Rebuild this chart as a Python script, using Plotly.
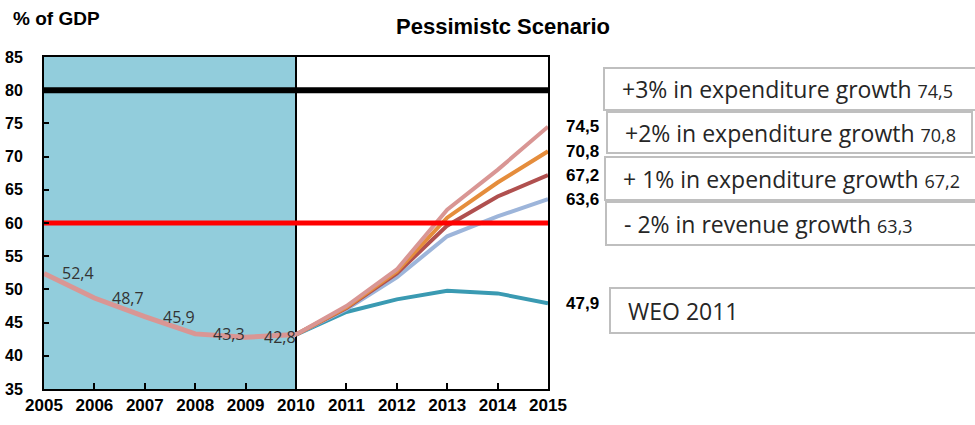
import plotly.graph_objects as go

years = [2005, 2006, 2007, 2008, 2009, 2010, 2011, 2012, 2013, 2014, 2015]
hist_years = [2005, 2006, 2007, 2008, 2009, 2010]
history = [52.4, 48.7, 45.9, 43.3, 42.8, 43.2]
hist_labels = ["52,4", "48,7", "45,9", "43,3", "42,8"]

scen_years = [2010, 2011, 2012, 2013, 2014, 2015]
exp3 = [43.2, 47.5, 53.0, 62.0, 68.0, 74.5]
exp2 = [43.2, 47.3, 52.7, 60.8, 66.1, 70.8]
exp1 = [43.2, 47.2, 52.4, 59.6, 64.0, 67.2]
rev2 = [43.2, 47.0, 51.8, 58.0, 61.0, 63.6]
weo = [43.2, 46.6, 48.5, 49.8, 49.4, 47.9]

end_labels = ["74,5", "70,8", "67,2", "63,6", "47,9"]
box_texts = ["+3% in expenditure growth", "+2% in expenditure growth",
             "+ 1% in expenditure growth", "- 2% in revenue growth", "WEO 2011"]
box_values = ["74,5", "70,8", "67,2", "63,3", ""]

limit_high = 80
limit_low = 60

W, H = 975, 425
PL, PR, PT, PB = 44, 548, 57, 389          # plot area in window pixels
L, T = PL, PT
R, B = W - PR, H - PB
PW, PH = PR - PL, PB - PT

def px(x):
    return (x - PL) / PW

def py(y):
    return (PB - y) / PH

fig = go.Figure()

fig.add_shape(type="rect", xref="x", yref="y", x0=2005, x1=2010, y0=35, y1=85,
              fillcolor="#92CDDC", line_width=0, layer="below")
fig.add_shape(type="line", xref="x", yref="y", x0=2010, x1=2010, y0=35, y1=85,
              line=dict(color="black", width=2), layer="below")

series = [
    (weo, "#3A9AB2"),
    (rev2, "#9DB5DA"),
    (exp1, "#B0504F"),
    (exp2, "#E58D3C"),
    (exp3, "#D99694"),
]
for vals, col in series:
    fig.add_trace(go.Scatter(x=scen_years, y=vals, mode="lines",
                             line=dict(color=col, width=4)))

fig.add_trace(go.Scatter(x=hist_years, y=history, mode="lines",
                         line=dict(color="#D99694", width=5)))

fig.add_trace(go.Scatter(x=[years[0], years[-1]], y=[limit_low, limit_low], mode="lines",
                         line=dict(color="#FF0000", width=5), hoverinfo="skip"))
fig.add_trace(go.Scatter(x=[years[0], years[-1]], y=[limit_high, limit_high], mode="lines",
                         line=dict(color="#000000", width=6), hoverinfo="skip"))

for xv, yv, lab in zip(hist_years, history, hist_labels):
    fig.add_annotation(x=xv, y=yv, xref="x", yref="y", text=lab, showarrow=False,
                       xanchor="left", yanchor="middle", xshift=16,
                       font=dict(family="Open Sans", size=16, color="#333333"))

end_vals = [exp3[-1], exp2[-1], exp1[-1], rev2[-1], weo[-1]]
for yv, lab in zip(end_vals, end_labels):
    fig.add_annotation(x=2015, y=yv, xref="x", yref="y", text=lab, showarrow=False,
                       xanchor="left", yanchor="middle", xshift=16,
                       font=dict(family="Liberation Sans", size=17, color="black", weight="bold"))

boxes = [(604, 990, 68, 110), (607, 972, 112, 153), (605, 990, 157, 200),
         (606, 990, 202, 245), (610, 990, 288, 333)]
for (x0, x1, y0, y1), txt, val in zip(boxes, box_texts, box_values):
    fig.add_shape(type="rect", xref="paper", yref="paper", x0=px(x0), x1=px(x1),
                  y0=py(y1), y1=py(y0), line=dict(color="#BFBFBF", width=2),
                  fillcolor="white")
    t = txt if not val else f"{txt} <span style='font-size:18px'>{val}</span>"
    fig.add_annotation(x=px(x0 + 16), y=py((y0 + y1) / 2), xref="paper", yref="paper",
                       text=t, showarrow=False, xanchor="left", yanchor="middle",
                       font=dict(family="Open Sans", size=23, color="#262626"))

fig.add_annotation(x=px(11), y=py(19), xref="paper", yref="paper", text="% of GDP",
                   showarrow=False, xanchor="left", yanchor="middle",
                   font=dict(family="Liberation Sans", size=19, color="black", weight="bold"))
fig.add_annotation(x=px(503), y=py(27), xref="paper", yref="paper", text="Pessimistc Scenario",
                   showarrow=False, xanchor="center", yanchor="middle",
                   font=dict(family="Liberation Sans", size=22, color="black", weight="bold"))

fig.update_layout(
    width=W, height=H, margin=dict(l=L, r=R, t=T, b=B, autoexpand=False),
    paper_bgcolor="white", plot_bgcolor="white", showlegend=False,
    xaxis=dict(range=[2005, 2015], tickvals=years, ticktext=[str(y) for y in years],
               automargin=False,
               showgrid=False, zeroline=False, showline=True, linecolor="black", linewidth=2,
               mirror=True, ticks="inside", ticklen=6, tickwidth=2, tickcolor="black",
               tickfont=dict(family="Liberation Sans", size=17, color="black", weight="bold")),
    yaxis=dict(range=[35, 85], dtick=5, showgrid=False, zeroline=False, showline=True,
               automargin=False,
               linecolor="black", linewidth=2, mirror=True, ticks="inside", ticklen=5,
               tickwidth=2, tickcolor="black", ticklabelstandoff=16,
               tickfont=dict(family="Liberation Sans", size=16, color="black", weight="bold")),
)

fig.write_html("out.html", config={"displayModeBar": False},
               post_script="document.body.style.margin='0';document.body.style.overflow='hidden';")
